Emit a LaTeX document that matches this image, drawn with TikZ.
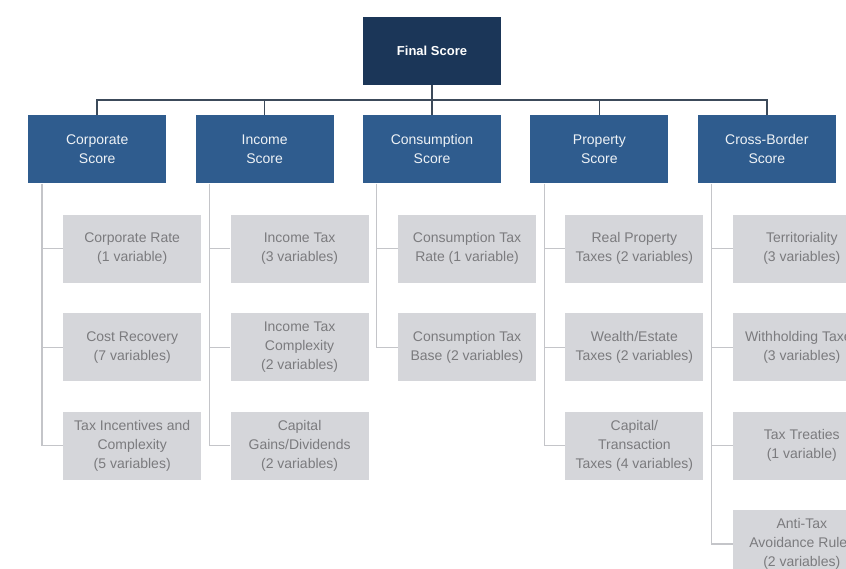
\documentclass[tikz,border=0pt]{standalone}
\usepackage{fontspec}
\setmainfont{Liberation Sans}
\usepackage{tikz}
\usetikzlibrary{positioning, calc}
\definecolor{navy}{HTML}{1B3658}
\definecolor{steel}{HTML}{2F5C8E}
\definecolor{boxgray}{HTML}{D5D6DA}
\definecolor{textgray}{HTML}{7B7B7E}
\definecolor{busline}{HTML}{3C4A5A}
\definecolor{subline}{HTML}{C4C5C9}

\begin{document}
\begin{tikzpicture}[node distance=29pt,
  every node/.style={minimum width=138pt, minimum height=68pt, inner sep=0pt,
    align=center, font=\fontsize{14}{19}\selectfont},
  top/.style={fill=navy, text=white, font=\bfseries\fontsize{13}{17}\selectfont},
  score/.style={fill=steel, text=white!92!steel},
  item/.style={fill=boxgray, text=textgray},
  bus/.style={draw=busline, line width=1.6pt},
  twig/.style={draw=subline, line width=1.3pt}]
  \useasboundingbox (0,0) rectangle (846pt,-569pt);
  \clip (0,0) rectangle (846pt,-569pt);
  % top and the five scores
  \node[top] (F) at (432pt,-51pt) {Final Score};
  \node[score] (S3) [below=30pt of F] {Consumption\\Score};
  \node[score] (S2) [left=of S3] {Income\\Score};
  \node[score] (S1) [left=of S2] {Corporate\\Score};
  \node[score] (S4) [right=of S3] {Property\\Score};
  \node[score] (S5) [right=of S4] {Cross-Border\\Score};
  \coordinate (bus) at ($(F.south)!0.5!(S3.north)$);
  \draw[bus] (F) -- (S3);
  \draw[bus] (S1.north) |- (bus) -| (S5.north);
  \draw[bus] (S2.north) -- (S2.north |- bus);
  \draw[bus] (S4.north) -- (S4.north |- bus);
  % corporate
  \node[item] (a1) [below right=31pt and 35pt of S1.south west] {Corporate Rate\\(1 variable)};
  \node[item] (a2) [below=30pt of a1] {Cost Recovery\\(7 variables)};
  \node[item] (a3) [below=30pt of a2] {Tax Incentives and\\Complexity\\(5 variables)};
  % income
  \node[item] (b1) [below right=31pt and 35pt of S2.south west] {Income Tax\\(3 variables)};
  \node[item] (b2) [below=30pt of b1] {Income Tax\\Complexity\\(2 variables)};
  \node[item] (b3) [below=30pt of b2] {Capital\\Gains/Dividends\\(2 variables)};
  % consumption
  \node[item] (c1) [below right=31pt and 35pt of S3.south west] {Consumption Tax\\Rate (1 variable)};
  \node[item] (c2) [below=30pt of c1] {Consumption Tax\\Base (2 variables)};
  % property
  \node[item] (d1) [below right=31pt and 35pt of S4.south west] {Real Property\\Taxes (2 variables)};
  \node[item] (d2) [below=30pt of d1] {Wealth/Estate\\Taxes (2 variables)};
  \node[item] (d3) [below=30pt of d2] {Capital/\\Transaction\\Taxes (4 variables)};
  % cross-border
  \node[item] (e1) [below right=31pt and 35pt of S5.south west] {Territoriality\\(3 variables)};
  \node[item] (e2) [below=30pt of e1] {Withholding Taxes\\(3 variables)};
  \node[item] (e3) [below=30pt of e2] {Tax Treaties\\(1 variable)};
  \node[item] (e4) [below=30pt of e3] {Anti-Tax\\Avoidance Rules\\(2 variables)};
  % branch lines
  \coordinate (v1) at ($(S1.south west)+(14pt,0)$);
  \coordinate (v2) at ($(S2.south west)+(14pt,0)$);
  \coordinate (v3) at ($(S3.south west)+(14pt,0)$);
  \coordinate (v4) at ($(S4.south west)+(14pt,0)$);
  \coordinate (v5) at ($(S5.south west)+(14pt,0)$);
  \draw[twig] (v1) |- (a1.west) (v1) |- (a2.west) (v1) |- (a3.west);
  \draw[twig] (v2) |- (b1.west) (v2) |- (b2.west) (v2) |- (b3.west);
  \draw[twig] (v3) |- (c1.west) (v3) |- (c2.west);
  \draw[twig] (v4) |- (d1.west) (v4) |- (d2.west) (v4) |- (d3.west);
  \draw[twig] (v5) |- (e1.west) (v5) |- (e2.west) (v5) |- (e3.west) (v5) |- (e4.west);
\end{tikzpicture}
\end{document}
